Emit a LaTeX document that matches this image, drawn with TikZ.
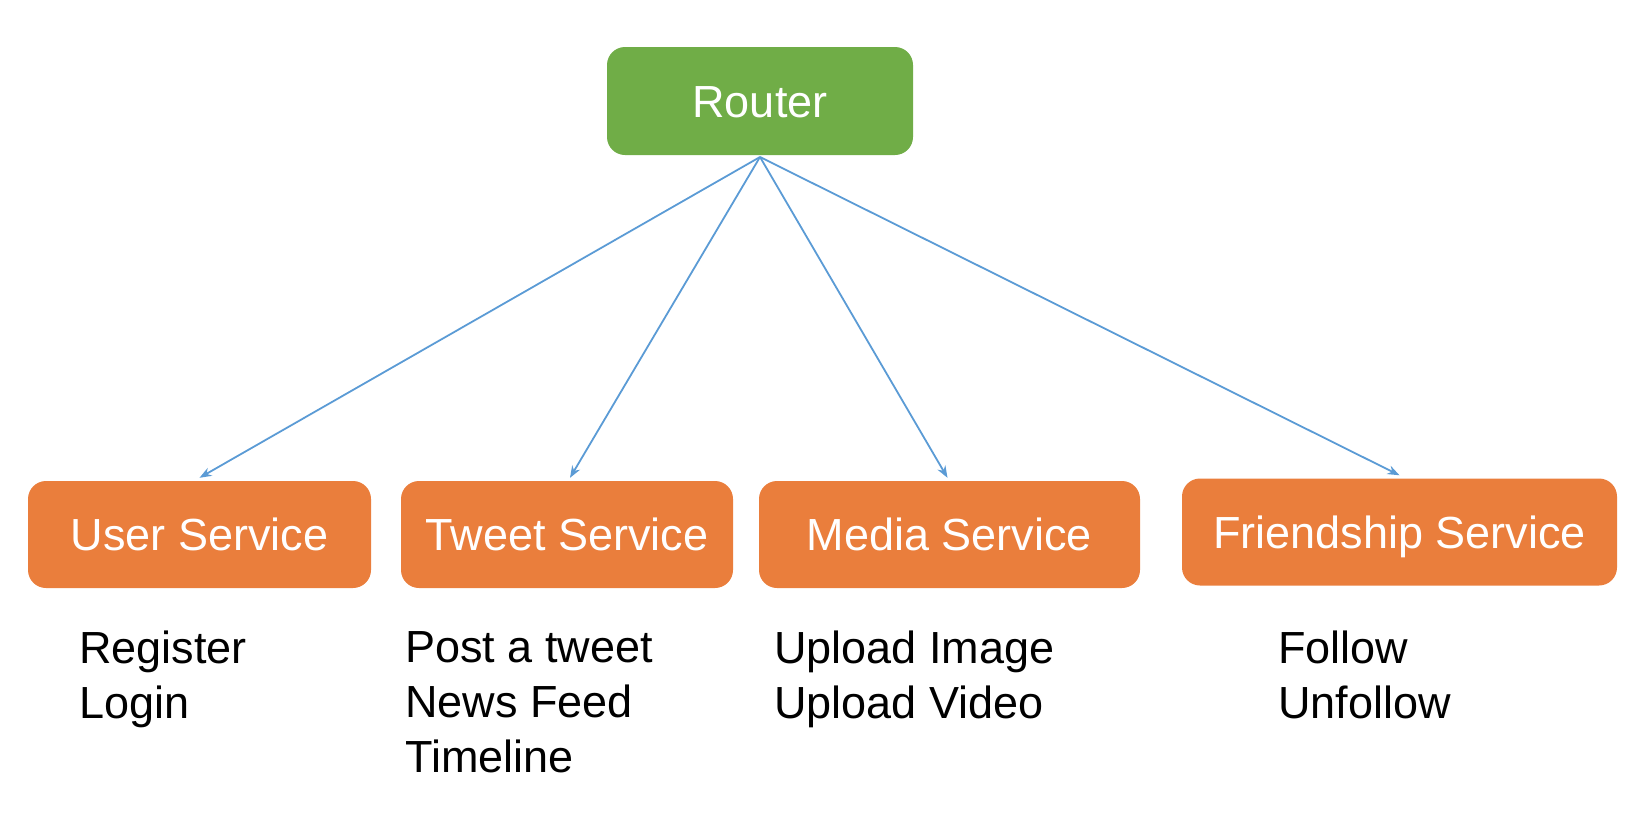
\documentclass[tikz,border=0pt]{standalone}
\usepackage{fontspec}
\setmainfont{Liberation Sans}
\usetikzlibrary{arrows.meta}
\definecolor{routergreen}{HTML}{70AD47}
\definecolor{svcorange}{HTML}{EA7E3C}
\definecolor{linkblue}{HTML}{5B9BD5}
\tikzset{
  box/.style={rounded corners=18pt, inner sep=0pt, text=white,
    font=\fontsize{45}{54}\selectfont, align=center,
    text height=32.5pt, text depth=0pt},
  routerbox/.style={box, fill=routergreen, minimum width=306pt, minimum height=108pt},
  svcbox/.style={box, fill=svcorange, minimum height=107pt},
  link/.style={draw=linkblue, line width=1.8pt, -{Stealth[length=12pt,width=9pt]}},
  desc/.style={anchor=north west, inner sep=0pt, align=left,
    font=\fontsize{45}{55}\selectfont}
}
\begin{document}
\begin{tikzpicture}[x=1pt,y=-1pt]
\useasboundingbox (0,0) rectangle (1640,838);
\node[routerbox] (router) at (760,101) {Router};
\node[svcbox, minimum width=343pt] (user) at (199.5,534.5) {User Service};
\node[svcbox, minimum width=332pt] (tweet) at (567,534.5) {Tweet Service};
\node[svcbox, minimum width=381pt] (media) at (949.5,534.5) {Media Service};
\node[svcbox, minimum width=435pt] (friend) at (1399.5,532) {Friendship Service};
\coordinate (hub) at (760,157);
\draw[link] (hub) -- ([yshift=3pt]user.north);
\draw[link] (hub) -- ([xshift=3pt,yshift=3pt]tweet.north);
\draw[link] (hub) -- ([xshift=-2pt,yshift=3pt]media.north);
\draw[link] (hub) -- ([yshift=3pt]friend.north);
\node[desc] (userdesc) at (79,631) {Register\\Login};
\node[desc] (tweetdesc) at (405,631) {Post a tweet\\News Feed\\Timeline};
\node[desc] (mediadesc) at (774,631) {Upload Image\\Upload Video};
\node[desc] (frienddesc) at (1278,631) {Follow\\Unfollow};
\end{tikzpicture}
\end{document}
